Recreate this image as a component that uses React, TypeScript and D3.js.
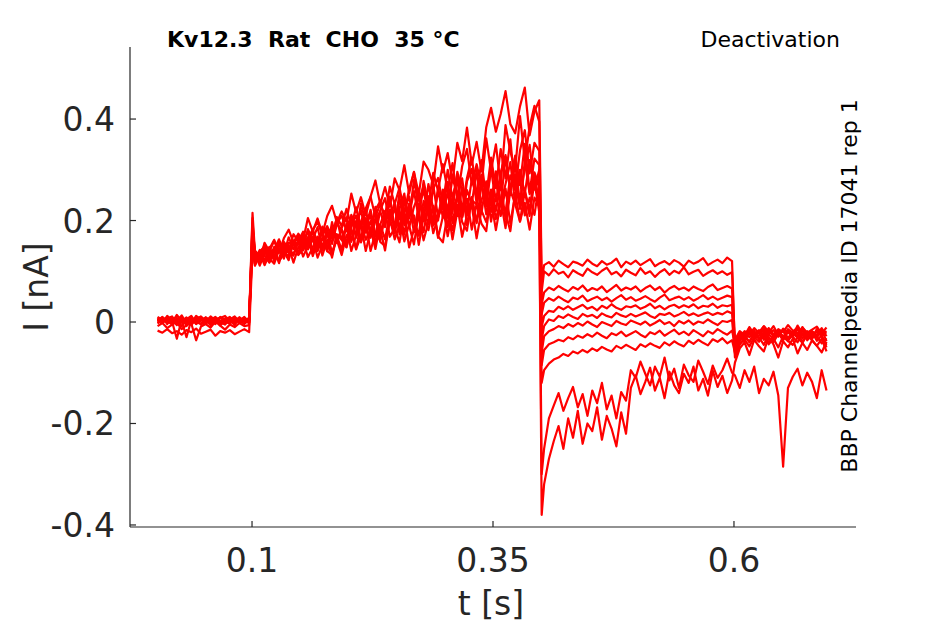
import React from "react";
import * as d3 from "d3";

// ---- data (currents in pA, times in s) ----
const xTickValues = [0.1, 0.35, 0.6];
const xTickLabels = ["0.1", "0.35", "0.6"];
const yTickValues = [-0.4, -0.2, 0, 0.2, 0.4];
const yTickLabels = ["-0.4", "-0.2", "0", "0.2", "0.4"];

const baselineTimes = d3.range(20).map((i) => 0.002 + 0.005 * i);
const spikeTime = 0.1005;
const prepulseTimes = d3.range(60).map((i) => 0.103 + 0.005 * i);
const dipTime = 0.4005;
const tailTimes = d3.range(40).map((i) => 0.403 + 0.005 * i);
const postTimes = d3.range(20).map((i) => 0.601 + 0.005 * i);

const baselinePA = [
  [8, -2, 12, 3, -5, 6, 1, 10, -3, 4, 7, -1, 9, 2, -4, 5, 11, 0, 6, 3],
  [2, 10, -4, 7, 1, -8, 5, 12, -2, 3, 8, -6, 4, 9, 0, -3, 6, 2, 10, -1],
  [-3, 5, 9, -1, 14, 2, -30, 4, 8, -5, 1, 11, 3, -2, 7, 4, -6, 9, 1, 5],
  [5, 0, 7, 11, -3, 8, 3, -6, 6, 10, -1, 4, -4, 8, 12, 1, 5, -2, 7, 0],
  [10, 4, -1, 6, 2, 13, -2, 7, 0, -4, 9, 3, 6, -3, 5, 10, -1, 4, 8, 2],
  [0, 6, 3, -5, 8, 1, 9, -2, 12, 5, -3, 7, 0, 10, 4, -1, 8, 3, -4, 6],
  [6, -1, 4, 9, -6, 3, 7, 0, 5, 11, 2, -5, 8, 1, 6, -2, 3, 9, 0, 4],
  [3, 9, 1, -3, 5, 10, -8, 6, 2, 7, -2, 4, 10, 0, -5, 6, 2, 7, 3, 8],
  [-17, -21, -14, -22, -18, -25, -16, -20, -13, -23, -19, -15, -27, -18, -21, -16, -24, -19, -14, -20],
  [-2, 4, 8, 1, -33, 5, 0, 7, -4, 3, 9, -1, 5, -7, 2, 6, -3, 8, 1, -2],
  [-8, -2, -12, -5, 0, -14, -6, -3, -36, -9, -4, -11, 1, -7, -15, -5, -10, -2, -8, -6],
];

const stepSpikePA = [215, 190, 175, 205, 160, 185, 150, 170, 140, 195, 165];

const prepulsePA = [
  [138, 121, 156, 139, 160, 136, 165, 182, 157, 174, 161, 205, 178, 204, 174, 209, 229, 196, 218, 198,
   253, 216, 246, 210, 247, 279, 232, 266, 227, 283, 260, 309, 253, 296, 252, 316, 300, 271, 346, 295,
   333, 276, 353, 317, 383, 310, 355, 297, 384, 422, 375, 410, 455, 390, 372, 425, 462, 368, 415, 437],
  [121, 142, 121, 144, 162, 138, 154, 140, 173, 159, 178, 152, 182, 197, 171, 189, 166, 207, 189, 223,
   189, 226, 185, 224, 247, 207, 233, 209, 267, 232, 265, 213, 262, 295, 239, 268, 229, 294, 259, 311,
   258, 313, 243, 307, 341, 271, 311, 268, 362, 298, 350, 269, 388, 336, 300, 406, 318, 385, 426, 395],
  [139, 123, 141, 118, 148, 145, 133, 167, 144, 160, 148, 183, 162, 149, 186, 181, 154, 193, 210, 179,
   208, 167, 234, 194, 182, 221, 238, 199, 222, 187, 255, 234, 204, 280, 223, 260, 207, 262, 284, 232,
   300, 243, 290, 219, 284, 324, 253, 290, 249, 324, 264, 341, 283, 360, 260, 338, 378, 293, 353, 337],
  [112, 140, 131, 117, 141, 154, 131, 145, 160, 134, 171, 148, 168, 141, 188, 169, 184, 156, 185, 206,
   158, 197, 220, 176, 199, 168, 220, 244, 196, 224, 181, 241, 209, 258, 204, 278, 233, 199, 258, 225,
   276, 218, 296, 258, 217, 281, 245, 319, 242, 300, 238, 295, 329, 254, 328, 270, 351, 256, 322, 309],
  [132, 118, 153, 137, 129, 155, 125, 156, 152, 169, 141, 166, 182, 158, 142, 185, 174, 203, 162, 186,
   208, 166, 198, 224, 166, 201, 218, 187, 247, 185, 224, 253, 186, 227, 252, 199, 272, 222, 200, 261,
   220, 284, 250, 206, 277, 302, 234, 271, 228, 303, 275, 231, 326, 259, 310, 236, 305, 349, 261, 281],
  [141, 130, 119, 144, 120, 157, 145, 136, 160, 136, 157, 179, 139, 160, 180, 142, 197, 160, 182, 154,
   211, 189, 158, 205, 176, 227, 162, 210, 201, 174, 246, 191, 233, 177, 231, 222, 193, 270, 206, 259,
   206, 246, 281, 207, 260, 233, 299, 214, 277, 237, 297, 233, 272, 315, 233, 300, 252, 319, 263, 300],
  [115, 139, 149, 128, 142, 163, 139, 129, 158, 153, 173, 143, 163, 187, 143, 173, 164, 193, 183, 148,
   191, 210, 161, 190, 221, 173, 161, 214, 204, 236, 173, 218, 248, 196, 172, 239, 220, 193, 266, 205,
   258, 195, 246, 283, 211, 245, 195, 270, 243, 217, 293, 233, 216, 289, 271, 229, 317, 252, 289, 234],
  [136, 111, 135, 148, 128, 123, 158, 144, 134, 158, 143, 165, 176, 140, 167, 139, 178, 170, 142, 194,
   161, 199, 157, 191, 210, 155, 192, 219, 168, 185, 221, 172, 233, 201, 170, 223, 248, 190, 207, 246,
   187, 240, 209, 265, 191, 240, 232, 277, 212, 261, 219, 274, 203, 263, 291, 223, 259, 220, 295, 269],
  [115, 136, 112, 133, 145, 120, 134, 149, 117, 147, 160, 128, 147, 168, 131, 162, 127, 172, 162, 147,
   185, 143, 196, 162, 184, 144, 193, 163, 214, 186, 157, 215, 190, 153, 215, 177, 234, 175, 207, 230,
   169, 220, 248, 197, 180, 246, 197, 240, 267, 198, 251, 209, 263, 194, 252, 280, 210, 245, 211, 274],
  [135, 116, 146, 125, 115, 142, 139, 122, 157, 132, 144, 167, 130, 158, 175, 140, 132, 173, 164, 189,
   140, 171, 192, 140, 180, 204, 158, 150, 199, 178, 211, 159, 193, 210, 152, 208, 181, 229, 166, 208,
   226, 163, 218, 208, 243, 182, 233, 194, 179, 257, 203, 241, 185, 260, 232, 198, 258, 209, 277, 216],
  [111, 132, 143, 120, 141, 116, 149, 138, 131, 159, 129, 150, 164, 127, 151, 175, 137, 162, 132, 171,
   179, 144, 169, 193, 140, 177, 184, 141, 204, 163, 192, 212, 147, 183, 207, 161, 197, 227, 169, 157,
   215, 181, 231, 168, 211, 229, 165, 220, 197, 240, 181, 236, 215, 179, 255, 198, 235, 182, 245, 230],
];

const tailDipPA = [80, 60, 35, 15, -10, -35, -60, -85, -120, -300, -380];

const tailPA = [
  [112, 118, 109, 121, 114, 108, 119, 116, 111, 123, 115, 110, 120, 113, 117, 125, 108, 119, 114, 121,
   112, 118, 124, 110, 116, 120, 113, 122, 117, 109, 121, 115, 119, 126, 112, 118, 123, 116, 127, 120],
  [100, 92, 104, 95, 99, 88, 102, 96, 91, 105, 98, 93, 101, 107, 94, 99, 90, 103, 97, 92,
   106, 95, 100, 89, 98, 104, 93, 101, 96, 108, 94, 99, 103, 91, 97, 102, 95, 100, 93, 98],
  [58, 68, 63, 71, 65, 60, 69, 64, 72, 61, 67, 63, 70, 59, 66, 73, 62, 68, 64, 70,
   60, 67, 72, 63, 69, 58, 66, 71, 64, 68, 62, 70, 65, 61, 69, 74, 63, 67, 71, 66],
  [38, 47, 42, 50, 44, 39, 48, 45, 52, 41, 46, 50, 43, 48, 40, 47, 53, 44, 49, 42,
   46, 51, 45, 40, 48, 54, 43, 47, 50, 44, 49, 42, 47, 53, 45, 50, 44, 48, 52, 49],
  [12, 22, 20, 30, 25, 31, 24, 29, 34, 26, 30, 23, 32, 27, 35, 28, 24, 31, 29, 33,
   26, 30, 36, 27, 32, 25, 31, 34, 28, 33, 29, 35, 27, 32, 30, 36, 28, 33, 31, 34],
  [-8, 5, 2, 12, 8, 15, 10, 6, 16, 11, 14, 8, 17, 12, 9, 18, 13, 10, 16, 11,
   15, 19, 12, 8, 16, 14, 18, 11, 15, 20, 13, 17, 12, 16, 19, 14, 18, 15, 21, 17],
  [-28, -18, -14, -8, -12, -4, -9, -2, -7, 1, -5, -10, 0, -4, -8, 2, -3, -6, 3, -1,
   -5, 1, -7, -2, 4, -4, 0, -8, 2, -3, 3, -5, 1, -2, 5, -1, -6, 2, 0, 4],
  [-55, -44, -40, -35, -38, -30, -34, -27, -31, -24, -29, -21, -27, -32, -22, -26, -19, -28, -23, -18,
   -25, -30, -20, -24, -17, -27, -21, -15, -24, -19, -26, -16, -22, -28, -18, -23, -14, -20, -25, -17],
  [-95, -82, -74, -70, -63, -67, -58, -62, -55, -60, -52, -57, -49, -54, -58, -47, -52, -45, -50, -55,
   -44, -49, -42, -47, -51, -40, -46, -38, -44, -48, -37, -43, -35, -41, -46, -34, -39, -32, -42, -36],
  [-250, -190, -165, -140, -175, -150, -128, -168, -142, -185, -135, -160, -120, -172, -145, -190, -138, -155, -95, -110,
   -78, -102, -125, -88, -108, -70, -115, -92, -130, -84, -105, -118, -76, -98, -122, -86, -110, -95, -72, -100],
  [-320, -270, -235, -205, -250, -190, -228, -175, -240, -200, -215, -168, -232, -185, -210, -245, -178, -220, -130, -105,
   -142, -118, -90, -135, -110, -150, -98, -125, -140, -102, -120, -88, -135, -112, -145, -96, -128, -106, -140, -115],
];

const postPA = [
  [-55, -30, -18, -25, -12, -22, -8, -19, -26, -14, -20, -6, -17, -24, -11, -21, -15, -9, -23, -18],
  [-48, -25, -32, -15, -27, -20, -35, -12, -24, -18, -30, -14, -22, -28, -10, -25, -19, -31, -16, -38],
  [-62, -38, -22, -30, -17, -34, -24, -13, -29, -21, -36, -19, -27, -14, -32, -23, -18, -26, -12, -28],
  [-40, -20, -28, -10, -24, -16, -30, -21, -8, -26, -15, -32, -19, -11, -27, -22, -34, -14, -25, -20],
  [-70, -45, -30, -38, -25, -33, -19, -41, -27, -22, -35, -17, -29, -40, -24, -31, -20, -37, -26, -50],
  [-35, -18, -26, -12, -31, -20, -9, -24, -16, -29, -13, -21, -27, -7, -23, -18, -30, -15, -22, -11],
  [-58, -34, -26, -40, -21, -30, -45, -24, -33, -18, -28, -38, -22, -31, -15, -36, -25, -29, -42, -32],
  [-45, -28, -38, -20, -33, -26, -14, -30, -40, -23, -17, -35, -27, -21, -39, -24, -31, -18, -28, -45],
  [-60, -42, -35, -48, -30, -39, -26, -44, -33, -50, -28, -37, -45, -31, -41, -25, -36, -47, -33, -58],
  [-105, -130, -95, -118, -88, -140, -112, -125, -98, -145, -285, -130, -108, -92, -125, -100, -118, -150, -95, -135],
  [-80, -52, -40, -65, -35, -48, -58, -30, -44, -70, -38, -50, -33, -62, -41, -55, -36, -47, -60, -39],
];

const titleText = "Kv12.3  Rat  CHO  35 °C";
const protocolText = "Deactivation";
const sideText = "BBP Channelpedia ID 17041 rep 1";
const xLabel = "t [s]";
const yLabel = "I [nA]";

// ---- layout ----
const W = 945;
const H = 624;
const left = 130;
const right = 856;
const top = 47;
const bottom = 527;
const axisColor = "#262626";
const font = "'DejaVu Sans', sans-serif";

export default function App() {
  const x = d3.scaleLinear().domain([-0.0266, 0.7266]).range([left, right]);
  const y = d3.scaleLinear().domain([-0.404, 0.542]).range([bottom, top]);

  const line = d3
    .line<[number, number]>()
    .x((d) => x(d[0]))
    .y((d) => y(d[1] / 1000));

  const traces = baselinePA.map((_, k) => {
    const pts: [number, number][] = [
      ...baselineTimes.map((t, j) => [t, baselinePA[k][j]] as [number, number]),
      [spikeTime, stepSpikePA[k]],
      ...prepulseTimes.map((t, j) => [t, prepulsePA[k][j]] as [number, number]),
      [dipTime, tailDipPA[k]],
      ...tailTimes.map((t, j) => [t, tailPA[k][j]] as [number, number]),
      ...postTimes.map((t, j) => [t, postPA[k][j]] as [number, number]),
    ];
    return line(pts) || "";
  });

  return (
    <svg
      width={W}
      height={H}
      style={{ position: "absolute", left: 0, top: 0, background: "#fff" }}
      fontFamily={font}
    >
      <rect x={0} y={0} width={W} height={H} fill="#fff" />
      <g>
        {traces.map((d, i) => (
          <path
            key={i}
            d={d}
            fill="none"
            stroke="#ff0000"
            strokeWidth={2.2}
            strokeLinejoin="round"
          />
        ))}
      </g>
      {/* axes */}
      <line x1={left} x2={left} y1={top} y2={bottom} stroke={axisColor} strokeWidth={1.2} />
      <line x1={left} x2={right} y1={bottom} y2={bottom} stroke={axisColor} strokeWidth={1.2} />
      {yTickValues.map((v, i) => (
        <g key={"y" + i}>
          <line x1={left} x2={left + 6} y1={y(v)} y2={y(v)} stroke={axisColor} strokeWidth={1.2} />
          <text x={left - 15} y={y(v) + 12} textAnchor="end" fontSize={33} fill={axisColor}>
            {yTickLabels[i]}
          </text>
        </g>
      ))}
      {xTickValues.map((v, i) => (
        <g key={"x" + i}>
          <line x1={x(v)} x2={x(v)} y1={bottom} y2={bottom - 6} stroke={axisColor} strokeWidth={1.2} />
          <text x={x(v)} y={572} textAnchor="middle" fontSize={33} fill={axisColor}>
            {xTickLabels[i]}
          </text>
        </g>
      ))}
      <text x={491} y={615} textAnchor="middle" fontSize={33} fill={axisColor}>
        {xLabel}
      </text>
      <text transform="translate(48,287) rotate(-90)" textAnchor="middle" fontSize={33} fill={axisColor}>
        {yLabel}
      </text>
      <text x={167} y={47} fontSize={22} fontWeight="bold" fill="#000" style={{ whiteSpace: "pre" }}>
        {titleText}
      </text>
      <text x={840} y={47} textAnchor="end" fontSize={22} fill="#000">
        {protocolText}
      </text>
      <text transform="translate(857,286) rotate(-90)" textAnchor="middle" fontSize={22} fill="#000">
        {sideText}
      </text>
    </svg>
  );
}
